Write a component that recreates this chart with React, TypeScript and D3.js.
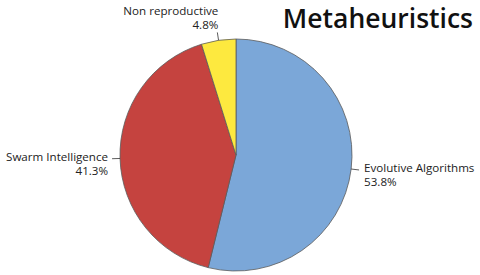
import { useEffect, useRef } from "react";
import * as d3 from "d3";

// 파이 데이터 (시계방향, 12시 방향부터)
const categories = ["Evolutive Algorithms", "Swarm Intelligence", "Non reproductive"];
const shares = [53.8, 41.3, 4.8];
const colors = ["#7ba7d8", "#c5433f", "#fde93f"];
const title = "Metaheuristics";

export default function App() {
  const svgRef = useRef<SVGSVGElement>(null);

  useEffect(() => {
    if (!svgRef.current) return;
    const svg = d3.select(svgRef.current);
    svg.selectAll("*").remove();

    const W = 480;
    const H = 275;
    const cx = 236;
    const cy = 155;
    const r = 116;
    const font = "'Open Sans', 'Noto Sans', sans-serif";

    svg.append("rect").attr("width", W).attr("height", H).attr("fill", "white");

    const pie = d3.pie<number>().sort(null).value((d) => d);
    const arcs = pie(shares);
    const arc = d3.arc<d3.PieArcDatum<number>>().innerRadius(0).outerRadius(r);

    const g = svg.append("g").attr("transform", `translate(${cx},${cy})`);

    g.selectAll("path")
      .data(arcs)
      .join("path")
      .attr("d", arc)
      .attr("fill", (_, i) => colors[i])
      .attr("stroke", "#5a5a5a")
      .attr("stroke-width", 0.8);

    // 라벨 + 리더선
    arcs.forEach((a, i) => {
      const mid = (a.startAngle + a.endAngle) / 2;
      const sx = Math.sin(mid);
      const sy = -Math.cos(mid);
      const p0 = [sx * r, sy * r];
      const p1 = [sx * (r + 8), sy * (r + 8)];
      g.append("line")
        .attr("x1", p0[0]).attr("y1", p0[1])
        .attr("x2", p1[0]).attr("y2", p1[1])
        .attr("stroke", "#333").attr("stroke-width", 0.8);

      const label = g.append("text")
        .attr("font-family", font)
        .attr("font-size", 11.6)
        .attr("fill", "#222");
      const pct = `${shares[i].toFixed(1)}%`;

      if (Math.abs(sx) > 0.5) {
        const right = sx > 0;
        const x = p1[0] + (right ? 5 : -4);
        label.attr("text-anchor", right ? "start" : "end");
        label.append("tspan").attr("x", x).attr("y", p1[1] + 2).text(categories[i]);
        label.append("tspan").attr("x", x).attr("y", p1[1] + 16).text(pct);
      } else {
        const x = p1[0] + 1;
        label.attr("text-anchor", "end");
        label.append("tspan").attr("x", x).attr("y", p1[1] - 17).text(categories[i]);
        label.append("tspan").attr("x", x).attr("y", p1[1] - 3).text(pct);
      }
    });

    svg.append("text")
      .attr("x", 473)
      .attr("y", 28)
      .attr("text-anchor", "end")
      .attr("font-family", font)
      .attr("font-weight", 600)
      .attr("font-size", 26.5)
      .attr("fill", "#111")
      .text(title);
  }, []);

  return (
    <svg
      ref={svgRef}
      width={480}
      height={275}
      style={{ position: "absolute", left: 0, top: 0 }}
    />
  );
}
